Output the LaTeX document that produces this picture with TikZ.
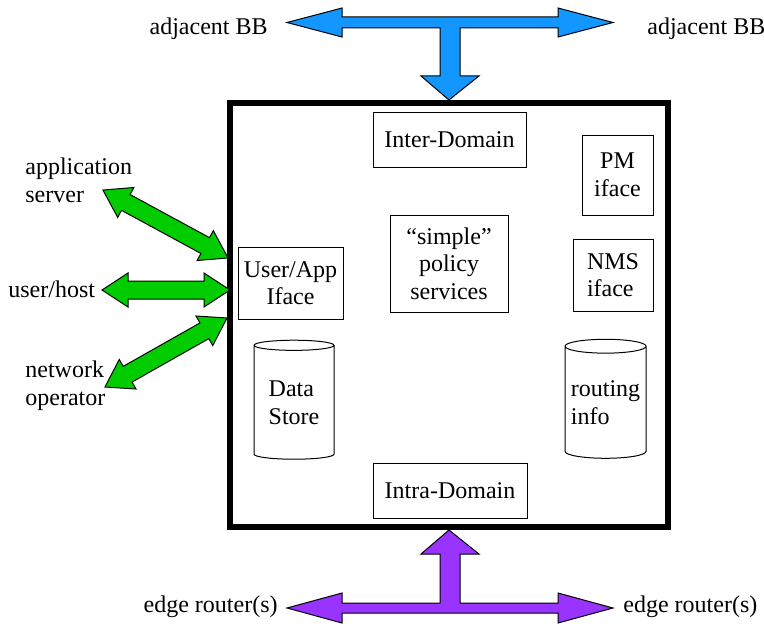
\documentclass[tikz,border=0pt]{standalone}
\usepackage{fontspec}
\setmainfont{Liberation Serif}
\usepackage{tikz}
\usetikzlibrary{shapes.geometric, positioning, calc}

\definecolor{bbblue}{RGB}{20,150,255}
\definecolor{linkgreen}{RGB}{0,204,0}
\definecolor{edgepurple}{RGB}{153,51,255}

\tikzset{
  every node/.style={font=\fontsize{12}{13.8}\selectfont, inner sep=0pt},
  inbox/.style={rectangle, draw=black, line width=0.5pt, fill=white},
  dbcyl/.style={cylinder, shape border rotate=90, aspect=0.2, draw=black, line width=0.5pt, align=left},
  fatarrow/.style={draw=black, line width=0.5pt, line join=miter},
  % green double arrow, #1 = half its length
  pics/greenarrow/.style={code={
    \draw[fatarrow, fill=linkgreen] (-#1,0) -- ++(26,17) -- ++(0,-8) -- (#1-26,9) -- ++(0,8) -- (#1,0)
      -- ++(-26,-17) -- ++(0,8) -- (-#1+26,-9) -- ++(0,-8) -- cycle;}}
}

\begin{document}
\begin{tikzpicture}[x=0.5pt, y=-0.5pt]
    \useasboundingbox (0,0) rectangle (764,626);
    \node (bb) [draw=black, line width=3pt, minimum width=219pt, minimum height=212pt] at (449,315) {};%the box itself
    % =============== inside the box ====================
    \node (inter) [inbox, minimum width=76.5pt, minimum height=27.5pt] at (449.5,139.5) {Inter-Domain};
    \node (pm) [inbox, minimum width=35.5pt, minimum height=40pt, align=center] at (617.5,175) {PM\\iface};
    \node (simple) [inbox, minimum width=59pt, minimum height=48.5pt, align=center] at (449,263.5) {“simple”\\policy\\services};
    \node (nms) [inbox, minimum width=40pt, minimum height=36pt, align=left] at (613,275) {NMS\\iface};
    \node (uapp) [inbox, minimum width=52.5pt, minimum height=36pt, align=center] at (290.5,283) {User/App\\Iface};
    \node (ds) [dbcyl, minimum width=40pt, minimum height=59.5pt] at (294,402.5) {Data\\Store};
    \node (ri) [dbcyl, minimum width=40.5pt, minimum height=59.5pt] at (605.5,402.5) {routing\\info};
    \node (intra) [inbox, minimum width=77pt, minimum height=27.5pt] at (450,490.5) {Intra-Domain};
    % =============== outside labels ====================
    \node (adjL) [anchor=base east] at (268,35) {adjacent BB};
    \node (adjR) [anchor=base west] at (647,35) {adjacent BB};
    \node (appsrv) [anchor=west, align=left] at (25,180) {application\\server};
    \node (uhost) [anchor=base west] at (8,297) {user/host};
    \node (netop) [anchor=west, align=left] at (25,386) {network\\operator};
    \node (edgeL) [anchor=base east] at (278,612) {edge router(s)};
    \node (edgeR) [anchor=base west] at (623,612) {edge router(s)};
    % =============== fat arrows ====================
    % adjacent BB -> box
    \draw[fatarrow, fill=bbblue] (287,22.5) -- (342,8) -- (342,17) -- (558,17) -- (558,8) -- (613,22.5)
      -- (558,37) -- (558,28) -- (460,28) -- (460,76) -- (479,76) -- (bb.north) -- (421,76)
      -- (440,76) -- (440,28) -- (342,28) -- (342,37) -- cycle;
    % edge routers -> box
    \draw[fatarrow, fill=edgepurple] (287,608) -- (342,593) -- (342,603) -- (440,603) -- (440,554) -- (421,554)
      -- (bb.south) -- (479,554) -- (460,554) -- (460,603) -- (558,603) -- (558,593) -- (613,608)
      -- (558,623) -- (558,613) -- (342,613) -- (342,623) -- cycle;
    % clients on the left
    \pic[rotate=-28.5] at (165.5,224) {greenarrow=71.2};%application server
    \pic at (166,290) {greenarrow=64};%user/host
    \pic[rotate=29.5] at (166,352.5) {greenarrow=70.1};%network operator
  \end{tikzpicture}
\end{document}
